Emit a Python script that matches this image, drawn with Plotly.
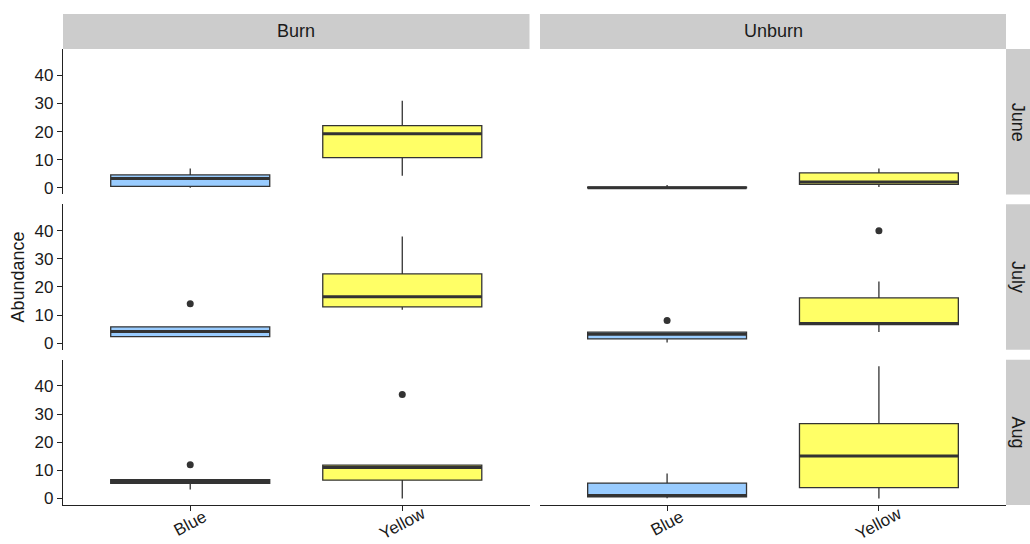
import plotly.graph_objects as go

# ---------------- data ----------------
categories = ["Blue", "Yellow"]
treatments = ["Burn", "Unburn"]
months = ["June", "July", "Aug"]

# order: for month in months, for treatment in treatments, for category in categories
lower_fence = [0.0, 4.3, 0.0, 0.3,
               2.2, 11.9, 0.2, 4.0,
               3.2, 0.0, 0.1, 0.0]
q1_vals = [0.5, 10.7, 0.0, 1.2,
           2.3, 12.9, 1.5, 6.6,
           5.4, 6.5, 0.6, 3.9]
median_vals = [3.3, 19.2, 0.0, 2.1,
               4.1, 16.5, 3.2, 7.0,
               6.0, 11.0, 1.1, 15.1]
q3_vals = [4.6, 22.1, 0.2, 5.3,
           5.8, 24.6, 3.9, 16.1,
           6.7, 11.9, 5.5, 26.6]
upper_fence = [6.9, 31.0, 1.0, 6.9,
               5.9, 37.9, 4.0, 21.9,
               6.8, 12.0, 8.9, 47.0]

outlier_month = ["July", "July", "July", "Aug", "Aug"]
outlier_treatment = ["Burn", "Unburn", "Unburn", "Burn", "Burn"]
outlier_category = ["Blue", "Blue", "Yellow", "Blue", "Yellow"]
outlier_value = [14.0, 8.1, 40.0, 12.0, 37.0]

y_ticks = [0, 10, 20, 30, 40]
y_title = "Abundance"

fill_colors = {"Blue": "#99CCFF", "Yellow": "#FFFF66"}

# ---------------- layout geometry ----------------
W, H = 1030, 544
col_px = [(63, 529.5), (540, 1006)]
row_px = [(49.3, 195.5), (205.5, 351.7), (361.7, 507.9)]
strip_top_px = (14, 49.3)
strip_right_px = (1006, 1040)

def px(x):
    return x / W

def py(y):
    return 1 - y / H

box_width = 0.75
dark = "#333333"
text_color = "#1a1a1a"
font_family = "Liberation Sans, Arial, sans-serif"

fig = go.Figure()
layout = dict(
    width=W, height=H,
    margin=dict(l=0, r=0, t=0, b=0),
    paper_bgcolor="white", plot_bgcolor="white",
    showlegend=False,
    font=dict(family=font_family, color=text_color),
)

shapes = []
annotations = []

ymin, ymax = 0.0, 47.0
pad = (ymax - ymin) * 0.05
yrange = [ymin - pad, ymax + pad]

for r, month in enumerate(months):
    for c, treat in enumerate(treatments):
        k = r * 2 + c + 1
        xa = "x" if k == 1 else f"x{k}"
        ya = "y" if k == 1 else f"y{k}"
        xkey = "xaxis" if k == 1 else f"xaxis{k}"
        ykey = "yaxis" if k == 1 else f"yaxis{k}"
        bottom = r == len(months) - 1
        left = c == 0
        layout[xkey] = dict(
            domain=[px(col_px[c][0]), px(col_px[c][1])],
            anchor=ya, range=[0.4, len(categories) + 0.6],
            showgrid=False, zeroline=False,
            showline=bottom, linecolor="#222222", linewidth=1.2,
            ticks="outside" if bottom else "", ticklen=5, tickwidth=1.2,
            tickcolor="#222222",
            tickvals=[i + 1 for i in range(len(categories))],
            showticklabels=False, fixedrange=True,
        )
        layout[ykey] = dict(
            domain=[py(row_px[r][1]), py(row_px[r][0])],
            anchor=xa, range=yrange,
            showgrid=False, zeroline=False,
            showline=left, linecolor="#222222", linewidth=1.2,
            ticks="outside" if left else "", ticklen=5, tickwidth=1.2,
            tickcolor="#222222",
            tickvals=y_ticks, showticklabels=left,
            tickfont=dict(size=17, color=text_color, family=font_family),
            fixedrange=True,
        )
        for i, cat in enumerate(categories):
            idx = (r * len(treatments) + c) * len(categories) + i
            xpos = i + 1
            fig.add_trace(go.Box(
                x=[xpos], q1=[q1_vals[idx]], median=[median_vals[idx]],
                q3=[q3_vals[idx]], lowerfence=[lower_fence[idx]],
                upperfence=[upper_fence[idx]],
                width=box_width, whiskerwidth=0,
                fillcolor=fill_colors[cat],
                line=dict(color=dark, width=1.3),
                boxpoints=False, xaxis=xa, yaxis=ya, hoverinfo="skip",
            ))
            # thicker median line (ggplot fatten)
            fig.add_trace(go.Scatter(
                x=[xpos - box_width / 2, xpos + box_width / 2],
                y=[median_vals[idx], median_vals[idx]],
                mode="lines", line=dict(color=dark, width=3),
                xaxis=xa, yaxis=ya, hoverinfo="skip",
            ))
            sel = [v for m, t, cc, v in zip(outlier_month, outlier_treatment,
                                            outlier_category, outlier_value)
                   if m == month and t == treat and cc == cat]
            if sel:
                fig.add_trace(go.Scatter(
                    x=[xpos] * len(sel), y=sel, mode="markers",
                    marker=dict(color=dark, size=7),
                    xaxis=xa, yaxis=ya, hoverinfo="skip",
                ))
            if bottom:
                annotations.append(dict(
                    x=xpos, xref=xa, y=py(526), yref="paper",
                    text=cat, showarrow=False, textangle=-28,
                    xanchor="center", yanchor="middle",
                    font=dict(size=17, color=text_color, family=font_family),
                ))

# top strips
for c, treat in enumerate(treatments):
    shapes.append(dict(type="rect", xref="paper", yref="paper",
                       x0=px(col_px[c][0]), x1=px(col_px[c][1]),
                       y0=py(strip_top_px[1]), y1=py(strip_top_px[0]),
                       fillcolor="#CCCCCC", line=dict(width=0), layer="below"))
    annotations.append(dict(
        x=px((col_px[c][0] + col_px[c][1]) / 2), xref="paper",
        y=py((strip_top_px[0] + strip_top_px[1]) / 2), yref="paper",
        text=treat, showarrow=False, xanchor="center", yanchor="middle",
        font=dict(size=18, color=text_color, family=font_family),
    ))

# right strips
for r, month in enumerate(months):
    shapes.append(dict(type="rect", xref="paper", yref="paper",
                       x0=px(strip_right_px[0]), x1=px(strip_right_px[1]),
                       y0=py(row_px[r][1]), y1=py(row_px[r][0]),
                       fillcolor="#CCCCCC", line=dict(width=0), layer="below"))
    annotations.append(dict(
        x=px(1018), xref="paper",
        y=py((row_px[r][0] + row_px[r][1]) / 2), yref="paper",
        text=month, showarrow=False, textangle=90,
        xanchor="center", yanchor="middle",
        font=dict(size=18, color=text_color, family=font_family),
    ))

# y axis title
annotations.append(dict(
    x=px(18.5), xref="paper",
    y=py((row_px[0][0] + row_px[-1][1]) / 2), yref="paper",
    text=y_title, showarrow=False, textangle=-90,
    xanchor="center", yanchor="middle",
    font=dict(size=18, color=text_color, family=font_family),
))

layout["shapes"] = shapes
layout["annotations"] = annotations
fig.update_layout(**layout)
fig.write_html("out.html")
